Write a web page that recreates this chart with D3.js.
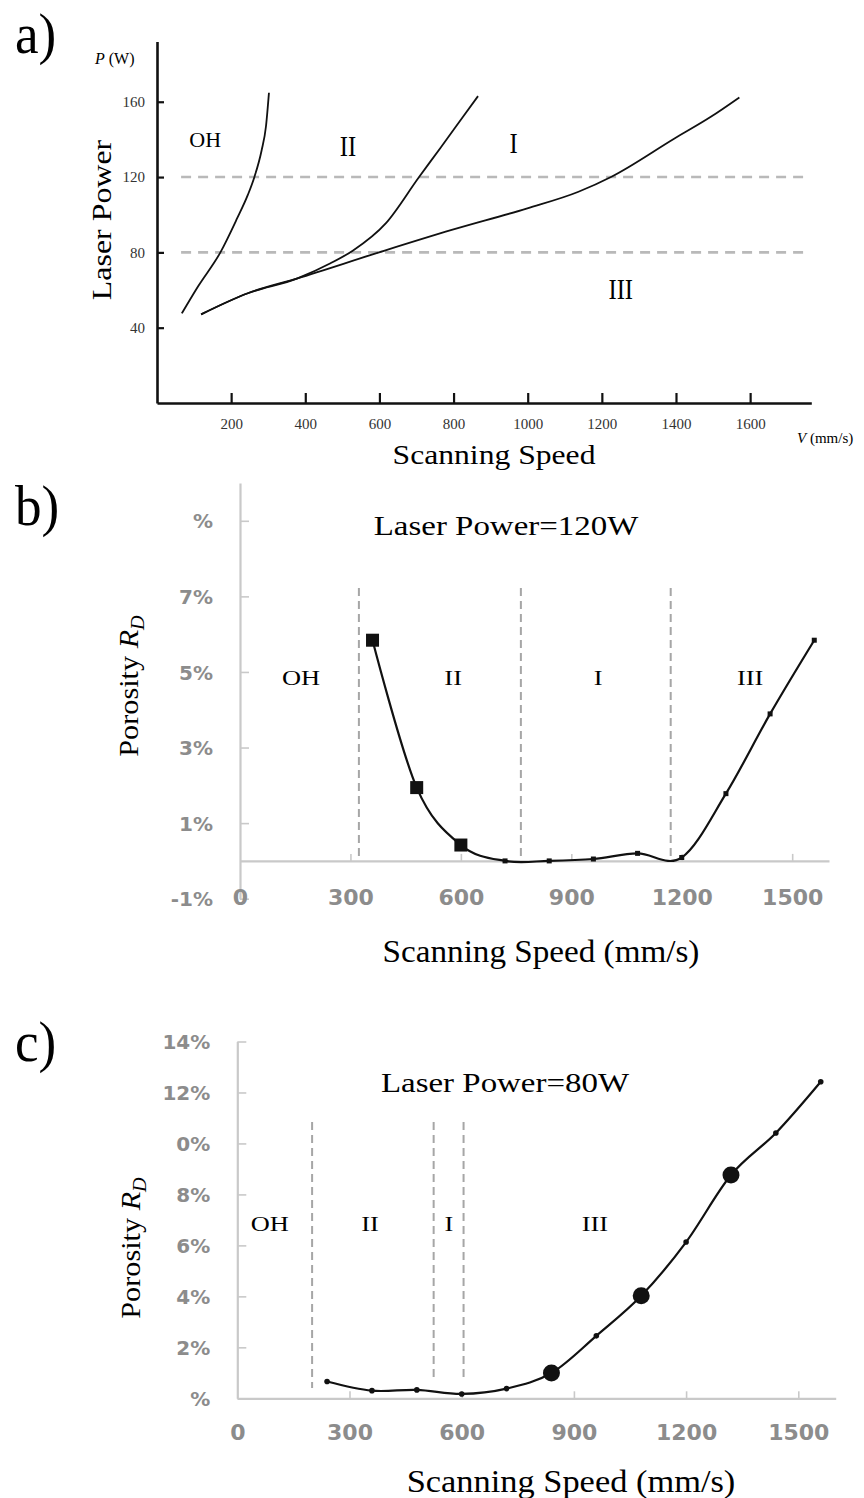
<!DOCTYPE html>
<html lang="en">
<head>
<meta charset="UTF-8">
<title>Laser power / porosity maps</title>
<script src="https://d3js.org/d3.v7.min.js"></script>
<style>
    body { margin: 0; background: #fff; }
    svg { display: block; }
    .serif { font-family: "Liberation Serif", "Times New Roman", serif; }
    .gray { font-family: "DejaVu Sans", sans-serif; font-weight: bold; fill: #8c8c8c; }
</style>
</head>
<body>
<svg id="chart" width="864" height="1498"></svg>
<script>
// ---- panel a: process map (boundary curves)
const aSpeedOH = [67, 111, 171, 216, 245, 263, 282, 294, 302];
const aPowerOH = [47.6, 62, 80, 98, 110.5, 120.2, 134, 147, 164.8];
const aSpeedII = [119, 245, 379, 468, 528, 617, 706, 765, 825, 866];
const aPowerII = [47.1, 58.3, 66.2, 74.2, 80.9, 95.4, 119.8, 135.6, 151.9, 163];
const aSpeedIII = [119, 245, 379, 599, 795, 999, 1137, 1226, 1396, 1494, 1571];
const aPowerIII = [47.1, 58.3, 66.2, 80, 91.9, 103.4, 112.2, 120.2, 140.5, 152, 162.3];
const aPowerLevels = [120, 80];
const aXTicks = [200, 400, 600, 800, 1000, 1200, 1400, 1600];
const aYTicks = [40, 80, 120, 160];
const aRegions = ["OH", "II", "I", "III"];
const aRegionSpeed = [130, 515, 962, 1251];
const aRegionPower = [136, 131, 133, 55];

// ---- panel b: 120 W
const bSpeed = [360, 480, 600, 720, 840, 960, 1080, 1200, 1320, 1440, 1560];
const bPorosity = [5.84, 1.94, 0.42, 0.0, 0.0, 0.05, 0.2, 0.09, 1.78, 3.89, 5.84];
const bHighlight = [360, 480, 600];
const bBounds = [323, 763, 1170];
const bRegions = ["OH", "II", "I", "III"];
const bRegionSpeed = [166, 579, 973, 1386];
const bYTicks = [-1, 1, 3, 5, 7, 9];
const bYLabels = ["-1%", "1%", "3%", "5%", "7%", "%"];
const bXTicks = [0, 300, 600, 900, 1200, 1500];

// ---- panel c: 80 W
const cSpeed = [240, 360, 480, 600, 720, 840, 960, 1080, 1200, 1320, 1440, 1560];
const cPorosity = [0.66, 0.30, 0.33, 0.17, 0.38, 0.99, 2.45, 4.02, 6.13, 8.76, 10.41, 12.42];
const cHighlight = [840, 1080, 1320];
const cBounds = [200, 525, 605];
const cBoundLow = [0.4, 0.7, 0.7];
const cRegions = ["OH", "II", "I", "III"];
const cRegionSpeed = [87, 355, 566, 956];
const cYTicks = [0, 2, 4, 6, 8, 10, 12, 14];
const cYLabels = ["%", "2%", "4%", "6%", "8%", "0%", "12%", "14%"];
const cXTicks = [0, 300, 600, 900, 1200, 1500];

const svg = d3.select("#chart");
const plain = d3.format("d");

// text squeezed/stretched along its own direction (the figure is scaled unevenly)
function word(g, str, x, y, size, sx, opts = {}) {
    const t = g.append("text")
        .attr("class", opts.cls || "serif")
        .attr("font-size", size)
        .attr("text-anchor", opts.anchor || "middle")
        .attr("transform", `translate(${x},${y}) rotate(${opts.rot || 0}) scale(${sx},1)`)
        .text(str);
    if (opts.italic) t.attr("font-style", "italic");
    return t;
}

function porosityLabel(g, x, y) {
    const t = g.append("text")
        .attr("class", "serif")
        .attr("font-size", 27)
        .attr("text-anchor", "middle")
        .attr("transform", `translate(${x},${y}) rotate(-90) scale(1.12,1)`);
    t.append("tspan").text("Porosity ");
    t.append("tspan").attr("font-style", "italic").text("R");
    t.append("tspan").attr("font-style", "italic").attr("font-size", 18).attr("dy", 6).text("D");
}

// ================= panel a =================
{
    const g = svg.append("g");
    const x = d3.scaleLinear().domain([0, 1765]).range([157, 811.3]);
    const y = d3.scaleLinear().domain([0, 192]).range([403, 41.5]);

    // dashed power levels
    g.selectAll("line.lvl").data(aPowerLevels).join("line")
        .attr("x1", x(65)).attr("x2", x(1750))
        .attr("y1", d => y(d)).attr("y2", d => y(d))
        .attr("stroke", "#b9b9b9").attr("stroke-width", 2.6)
        .attr("stroke-dasharray", "10,7");

    const xAxis = g.append("g").attr("transform", `translate(0,${y(0)})`)
        .call(d3.axisBottom(x).tickValues(aXTicks).tickFormat(plain)
            .tickSizeInner(-10).tickSizeOuter(0).tickPadding(15));
    const yAxis = g.append("g").attr("transform", `translate(${x(0)},0)`)
        .call(d3.axisLeft(y).tickValues(aYTicks).tickFormat(plain)
            .tickSizeInner(-7).tickSizeOuter(0).tickPadding(12));
    [xAxis, yAxis].forEach(ax => {
        ax.select(".domain").attr("stroke", "#111").attr("stroke-width", 2.6);
        ax.selectAll(".tick line").attr("stroke", "#111").attr("stroke-width", 2.2);
        ax.selectAll(".tick text").attr("class", "serif").attr("font-size", 15).attr("fill", "#333");
    });

    const line = d3.line().x(d => x(d[0])).y(d => y(d[1])).curve(d3.curveMonotoneX);
    [[aSpeedOH, aPowerOH], [aSpeedII, aPowerII], [aSpeedIII, aPowerIII]].forEach(([vs, ps]) => {
        g.append("path").datum(d3.zip(vs, ps)).attr("d", line)
            .attr("fill", "none").attr("stroke", "#111").attr("stroke-width", 1.8);
    });

    aRegions.forEach((r, i) => {
        word(g, r, x(aRegionSpeed[i]), y(aRegionPower[i]), r === "OH" ? 22 : 29, r === "OH" ? 1 : 0.85);
    });

    word(g, "a)", 15, 53, 56, 0.95, { anchor: "start" });
    const pw = g.append("text").attr("class", "serif").attr("font-size", 16)
        .attr("x", 95).attr("y", 64);
    pw.append("tspan").attr("font-style", "italic").text("P");
    pw.append("tspan").text(" (W)");
    const vm = g.append("text").attr("class", "serif").attr("font-size", 15)
        .attr("x", 797).attr("y", 443);
    vm.append("tspan").attr("font-style", "italic").text("V");
    vm.append("tspan").text(" (mm/s)");
    word(g, "Scanning Speed", 494, 464, 28, 1.13);
    word(g, "Laser Power", 111, 220, 28, 1.14, { rot: -90 });
}

// ======== shared drawing for the two porosity panels ========
function porosityPanel(cfg) {
    const g = svg.append("g");
    const { x, y } = cfg;

    // y axis line + inner ticks
    const yAxis = g.append("g").attr("transform", `translate(${x(0)},0)`)
        .call(d3.axisLeft(y).tickValues(cfg.yTicks).tickSizeInner(-9).tickSizeOuter(0)
            .tickPadding(27).tickFormat((d, i) => cfg.yLabels[i]));
    // x axis at zero
    const xAxis = g.append("g").attr("transform", `translate(0,${y(0)})`)
        .call(d3.axisBottom(x).tickValues(cfg.xTicks).tickFormat(plain)
            .tickSizeInner(-7).tickSizeOuter(0).tickPadding(cfg.xPad));
    [xAxis, yAxis].forEach(ax => {
        ax.select(".domain").attr("stroke", "#c9c9c9").attr("stroke-width", 2.2);
        ax.selectAll(".tick line").attr("stroke", "#c9c9c9").attr("stroke-width", 1.6);
    });
    xAxis.select(".tick line").remove();
    yAxis.selectAll(".tick text").attr("class", "gray").attr("font-size", 20).attr("dy", "0.36em");
    xAxis.selectAll(".tick text").attr("class", "gray").attr("font-size", 22);

    // region boundaries
    g.selectAll("line.bound").data(cfg.bounds).join("line")
        .attr("x1", d => x(d)).attr("x2", d => x(d))
        .attr("y1", cfg.boundTop).attr("y2", (d, i) => y(cfg.boundLow[i]))
        .attr("stroke", "#a6a6a6").attr("stroke-width", 2)
        .attr("stroke-dasharray", "8,5");

    const pts = d3.zip(cfg.speed, cfg.porosity);
    const line = d3.line().x(d => x(d[0])).y(d => y(d[1])).curve(d3.curveCardinal.tension(0));
    g.append("path").datum(pts).attr("d", line)
        .attr("fill", "none").attr("stroke", "#111").attr("stroke-width", 2.2);

    const small = pts.filter(d => !cfg.highlight.includes(d[0]));
    const big = pts.filter(d => cfg.highlight.includes(d[0]));
    if (cfg.marker === "square") {
        g.selectAll("rect.s").data(small).join("rect")
            .attr("x", d => x(d[0]) - 2.5).attr("y", d => y(d[1]) - 2.5)
            .attr("width", 5).attr("height", 5).attr("fill", "#111");
        g.selectAll("rect.b").data(big).join("rect")
            .attr("x", d => x(d[0]) - 6.5).attr("y", d => y(d[1]) - 6.5)
            .attr("width", 13).attr("height", 13).attr("fill", "#111");
    } else {
        g.selectAll("circle.s").data(small).join("circle")
            .attr("cx", d => x(d[0])).attr("cy", d => y(d[1])).attr("r", 2.8).attr("fill", "#111");
        g.selectAll("circle.b").data(big).join("circle")
            .attr("cx", d => x(d[0])).attr("cy", d => y(d[1])).attr("r", 8.5).attr("fill", "#111");
    }

    cfg.regions.forEach((r, i) => word(g, r, x(cfg.regionSpeed[i]), cfg.regionY, 22, 1.2));
    word(g, cfg.title, cfg.titleX, cfg.titleY, 27, 1.22);
    word(g, "Scanning Speed (mm/s)", cfg.xTitleX, cfg.xTitleY, 31, cfg.xTitleSx);
    porosityLabel(g, cfg.yTitleX, cfg.yTitleY);
    word(g, cfg.tag, 15, cfg.tagY, 56, 0.95, { anchor: "start" });
}

// ================= panel b =================
porosityPanel({
    x: d3.scaleLinear().domain([0, 1600]).range([240, 829]),
    y: d3.scaleLinear().domain([-1, 10]).range([898.7, 483]),
    yTicks: bYTicks, yLabels: bYLabels, xTicks: bXTicks, xPad: 28,
    bounds: bBounds, boundTop: 588, boundLow: [0.12, 0.12, 0.12],
    speed: bSpeed, porosity: bPorosity, highlight: bHighlight, marker: "square",
    regions: bRegions, regionSpeed: bRegionSpeed, regionY: 685,
    title: "Laser Power=120W", titleX: 506, titleY: 535,
    xTitleX: 541, xTitleY: 962, xTitleSx: 1.07,
    yTitleX: 138, yTitleY: 686,
    tag: "b)", tagY: 525
});

// ================= panel c =================
porosityPanel({
    x: d3.scaleLinear().domain([0, 1600]).range([237.3, 835.7]),
    y: d3.scaleLinear().domain([0, 14]).range([1398.3, 1041.5]),
    yTicks: cYTicks, yLabels: cYLabels, xTicks: cXTicks, xPad: 26,
    bounds: cBounds, boundTop: 1122, boundLow: cBoundLow,
    speed: cSpeed, porosity: cPorosity, highlight: cHighlight, marker: "circle",
    regions: cRegions, regionSpeed: cRegionSpeed, regionY: 1231,
    title: "Laser Power=80W", titleX: 505, titleY: 1092,
    xTitleX: 571, xTitleY: 1492, xTitleSx: 1.11,
    yTitleX: 140, yTitleY: 1248,
    tag: "c)", tagY: 1061
});
</script>
</body>
</html>
